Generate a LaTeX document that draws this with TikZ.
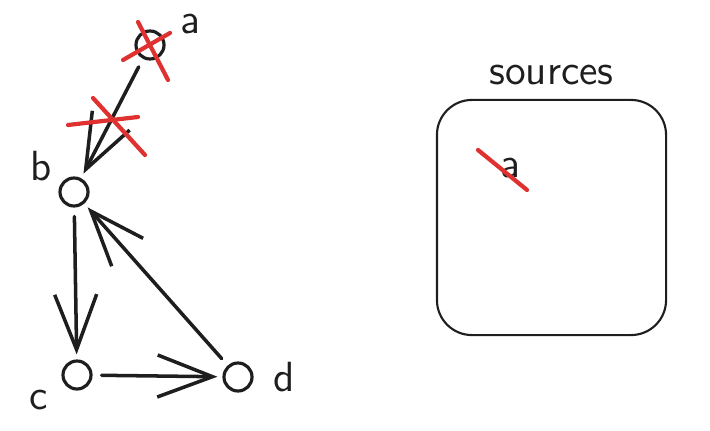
\documentclass[tikz,border=0pt]{standalone}
\usepackage{tikz}
\usetikzlibrary{arrows.meta}
\definecolor{inkred}{HTML}{E03131}
\definecolor{ink}{HTML}{1E1E1E}
\tikzset{
  vertex/.style={draw=ink, circle, line width=0.9pt, minimum size=0.28cm, inner sep=0pt},
  edgearrow/.style={draw=ink, line width=1pt, line cap=round,
    -{Straight Barb[length=0.55cm, width=0.42cm, line width=1pt]},
    shorten <=0.09cm, shorten >=0.05cm},
  strike/.style={draw=inkred, line width=1.2pt, line cap=round},
  every label/.style={inner sep=1pt}
}
\begin{document}
\begin{tikzpicture}[x=0.01cm, y=-0.01cm, font=\sffamily\fontsize{12}{14}\selectfont, text=ink]
\useasboundingbox (0,0) rectangle (710,431);
\node[vertex, label={[label distance=0.12cm]15:a}] (A) at (150,45) {};
\node[vertex, label={[label distance=0.04cm]160:b}] (B) at (74,192) {};
\node[vertex, label={[label distance=0.12cm]204:c}] (C) at (77,375) {};
\node[vertex, label={[label distance=0.16cm]0:d}] (D) at (238,377) {};
\draw[edgearrow] (A) -- (B);
\draw[edgearrow] (B) -- (C);
\draw[edgearrow] (C) -- (D);
\draw[edgearrow] (D) -- (B);
% crossed out vertex and edge
\draw[strike] (123,60) -- (170,33);
\draw[strike] (138,22) -- (168,80);
\draw[strike] (68,125) -- (138,117);
\draw[strike] (93,98) -- (145,155);
% sources set
\node[draw=ink, line width=0.6pt, rounded corners=0.35cm, minimum width=2.29cm, minimum height=2.35cm,
  label={[label distance=0.1cm]above:sources}] (Src) at (551.5,217.5) {};
\node (SrcA) at (510,168) {a};
\draw[strike] (478,150) -- (527,190);
\end{tikzpicture}
\end{document}
